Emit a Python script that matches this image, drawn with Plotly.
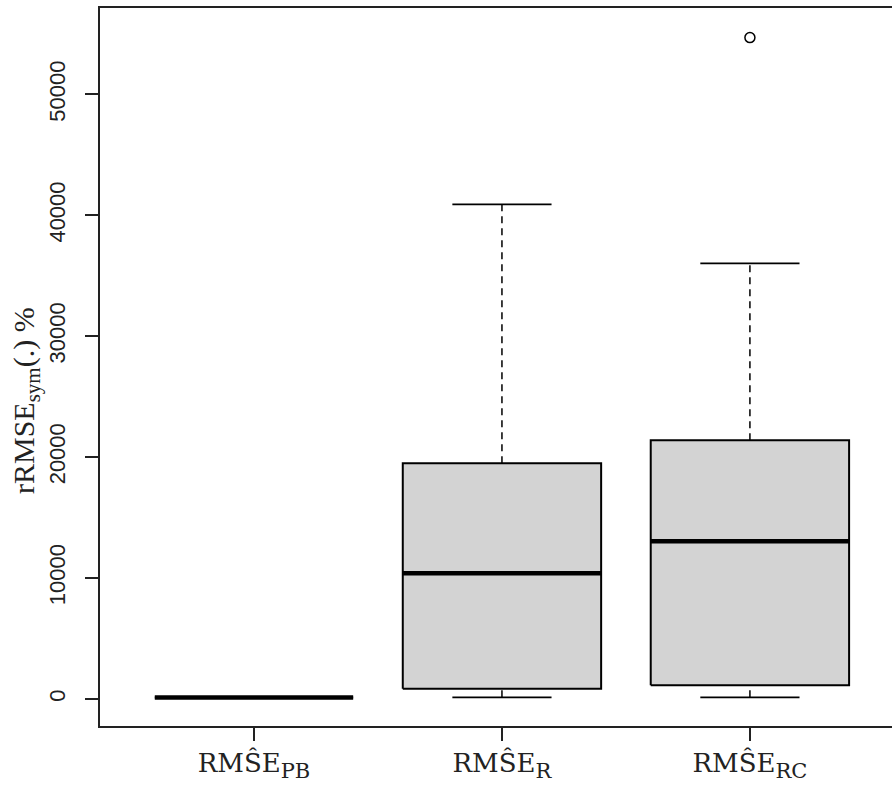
import plotly.graph_objects as go

# ---- data ----
categories = ["PB", "R", "RC"]
tick_main = ["RMŜE", "RMŜE", "RMŜE"]
tick_subs = ["PB", "R", "RC"]
lower_whisker = [100, 120, 120]
q1_values = [100, 840, 1120]
median_values = [100, 10380, 13030]
q3_values = [100, 19480, 21380]
upper_whisker = [100, 40900, 36020]
outlier_cat = ["RC"]
outlier_values = [54700]
y_ticks = [0, 10000, 20000, 30000, 40000, 50000]

BOX_HALF = 0.4
CAP_HALF = 0.2
positions = list(range(1, len(categories) + 1))
pos_of = dict(zip(categories, positions))
tick_labels = [f"{m}<sub><span style='font-size:21px'>{s}</span></sub>"
               for m, s in zip(tick_main, tick_subs)]

fig = go.Figure()

for i, c in enumerate(categories):
    p = pos_of[c]
    # whiskers (dashed)
    fig.add_trace(go.Scatter(
        x=[p, p], y=[q3_values[i], upper_whisker[i]], mode="lines",
        line=dict(color="black", width=1.5, dash="7px,5px"),
        hoverinfo="skip", showlegend=False))
    fig.add_trace(go.Scatter(
        x=[p, p], y=[lower_whisker[i], q1_values[i]], mode="lines",
        line=dict(color="black", width=1.5, dash="7px,5px"),
        hoverinfo="skip", showlegend=False))
    # caps
    for v in (upper_whisker[i], lower_whisker[i]):
        fig.add_trace(go.Scatter(
            x=[p - CAP_HALF, p + CAP_HALF], y=[v, v], mode="lines",
            line=dict(color="black", width=1.6),
            hoverinfo="skip", showlegend=False))
    # box
    fig.add_trace(go.Scatter(
        x=[p - BOX_HALF, p + BOX_HALF, p + BOX_HALF, p - BOX_HALF, p - BOX_HALF],
        y=[q1_values[i], q1_values[i], q3_values[i], q3_values[i], q1_values[i]],
        mode="lines", fill="toself", fillcolor="#D3D3D3",
        line=dict(color="black", width=2),
        hoverinfo="skip", showlegend=False))
    # median
    fig.add_trace(go.Scatter(
        x=[p - BOX_HALF, p + BOX_HALF], y=[median_values[i], median_values[i]],
        mode="lines", line=dict(color="black", width=4.5),
        hoverinfo="skip", showlegend=False))

# outliers
fig.add_trace(go.Scatter(
    x=[pos_of[c] for c in outlier_cat], y=outlier_values, mode="markers",
    marker=dict(symbol="circle-open", size=10, color="black", line=dict(width=1.5)),
    hoverinfo="skip", showlegend=False))

# invisible trace to activate the top axis (frame line only)
fig.add_trace(go.Scatter(x=[positions[0]], y=[y_ticks[0]], xaxis="x2", mode="markers",
                         marker=dict(opacity=0), hoverinfo="skip", showlegend=False))

W, H = 892, 785
L, T, B = 100, 8, 59
plot_h = H - T - B
plot_w = W - L
x_range = [0.379, 3.573]

fig.update_layout(
    width=W, height=H,
    margin=dict(l=L, r=0, t=T, b=B, pad=0),
    paper_bgcolor="white", plot_bgcolor="white",
    xaxis=dict(
        range=x_range, tickvals=positions, ticktext=tick_labels,
        showline=True, linecolor="#222", linewidth=2, mirror=False,
        ticks="outside", ticklen=13, tickwidth=1.5, tickcolor="#222",
        showgrid=False, zeroline=False,
        tickfont=dict(family="DejaVu Serif", size=26, color="#222"),
    ),
    xaxis2=dict(
        range=x_range, overlaying="x", side="top", showline=True,
        linecolor="#222", linewidth=2, showticklabels=False, ticks="",
        showgrid=False, zeroline=False,
    ),
    yaxis=dict(
        range=[-2250, 57150], tickvals=y_ticks,
        ticktext=[str(v) for v in y_ticks],
        tickangle=-90,
        showline=True, linecolor="#222", linewidth=2, mirror=False,
        ticks="outside", ticklen=13, tickwidth=1.5, tickcolor="#222",
        showgrid=False, zeroline=False, ticklabelstandoff=11,
        tickfont=dict(family="Liberation Sans", size=22, color="#222"),
    ),
    annotations=[dict(
        text="rRMSE<sub>sym</sub>(.) %", textangle=-90,
        xref="paper", yref="paper", x=(26 - L) / plot_w, y=(H - B - 401) / plot_h,
        xanchor="center", yanchor="middle", showarrow=False,
        font=dict(family="Liberation Serif", size=30, color="#222"),
    )],
)

fig.write_html(
    "out.html",
    config={"displayModeBar": False},
    post_script="document.body.style.margin='0';document.documentElement.style.overflow='hidden';document.body.style.overflow='hidden';",
)
